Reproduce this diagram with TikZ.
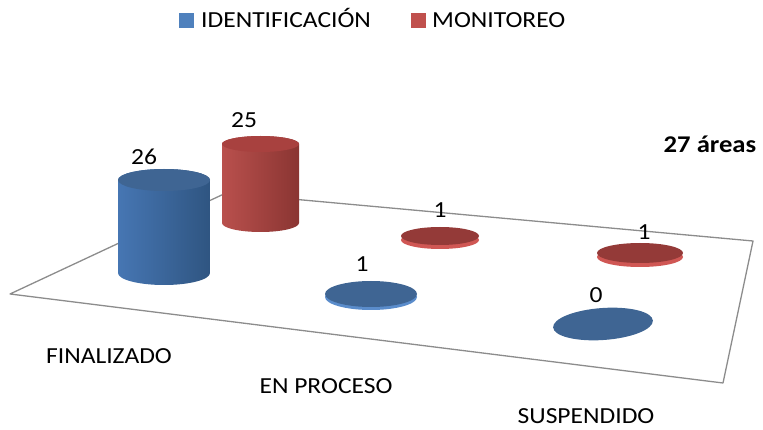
\documentclass[tikz,border=0pt]{standalone}
\usepackage{fontspec}
\setmainfont{Carlito}[FakeStretch=1.11]
\begin{document}
\begin{tikzpicture}[x=1pt,y=-1pt,
  lbl/.style={inner sep=0pt, anchor=base, font=\fontsize{23}{27}\selectfont},
  floorline/.style={draw=floorgray, line width=1.3pt, line join=round}]
\definecolor{bluel}{HTML}{5A90D6}
\definecolor{bluea}{HTML}{4676B3}
\definecolor{blued}{HTML}{2F5581}
\definecolor{bluetop}{HTML}{3F6593}
\definecolor{blueside}{HTML}{5A8CCB}
\definecolor{bluesq}{HTML}{4F81BD}
\definecolor{redl}{HTML}{D35E5B}
\definecolor{reda}{HTML}{B9504D}
\definecolor{redd}{HTML}{8A3532}
\definecolor{redtop}{HTML}{A8413F}
\definecolor{reddisc}{HTML}{943A38}
\definecolor{redside}{HTML}{D05754}
\definecolor{redsq}{HTML}{C0504D}
\definecolor{floorgray}{HTML}{8C8C8C}
\path[use as bounding box] (0,0) rectangle (763,430);
% floor
\draw[floorline] (10,294) -- (226,193) -- (753,241) -- (723,383) -- cycle;
% legend
\fill[bluesq] (179,13) rectangle (194,28);
\node[lbl, anchor=base west] (legid) at (201,28) {IDENTIFICACIÓN};
\fill[redsq] (411,13) rectangle (426,28);
\node[lbl, anchor=base west] (legmon) at (432,28) {MONITOREO};
% red cylinder (finalizado, monitoreo)
\shade[left color=reda, middle color=redl, right color=redd]
  (222pt,144) -- (222pt,223) arc[start angle=180, end angle=360, x radius=38.5pt, y radius=9pt]
  -- (299pt,144) arc[start angle=0, end angle=180, x radius=38.5pt, y radius=8pt] -- cycle;
\fill[redtop] (260.5,144) ellipse[x radius=38.5pt, y radius=8pt];
% blue cylinder (finalizado, identificacion)
\shade[left color=bluea, middle color=bluel, right color=blued]
  (118pt,180) -- (118pt,273) arc[start angle=180, end angle=360, x radius=46pt, y radius=12pt]
  -- (210pt,180) arc[start angle=0, end angle=180, x radius=46pt, y radius=11pt] -- cycle;
\fill[bluetop] (164,180) ellipse[x radius=46pt, y radius=11pt];
% discs
\fill[redside] (440,240) ellipse[x radius=39pt, y radius=9pt];
\fill[reddisc] (440,236) ellipse[x radius=39pt, y radius=9pt];
\fill[blueside] (371,297) ellipse[x radius=46pt, y radius=13pt];
\fill[bluetop] (371,294) ellipse[x radius=46pt, y radius=13pt];
\fill[redside] (640,257) ellipse[x radius=43pt, y radius=10pt];
\fill[reddisc] (640,253) ellipse[x radius=43pt, y radius=10pt];
\fill[bluetop, rotate around={4:(603,324)}] (603,324) ellipse[x radius=50pt, y radius=16pt];
% values
\node[lbl] (v26) at (144,165) {26};
\node[lbl] (v25) at (244,128) {25};
\node[lbl] (v1a) at (440,218) {1};
\node[lbl] (v1b) at (362,272) {1};
\node[lbl] (v1c) at (644,240) {1};
\node[lbl] (v0) at (596,302) {0};
% categories
\node[lbl] (cfin) at (109,363) {FINALIZADO};
\node[lbl] (cpro) at (326,393) {EN PROCESO};
\node[lbl] (csus) at (586,423) {SUSPENDIDO};
\node[lbl, font=\fontsize{24}{28}\selectfont\bfseries] (total) at (710,153) {27 áreas};
\end{tikzpicture}
\end{document}
